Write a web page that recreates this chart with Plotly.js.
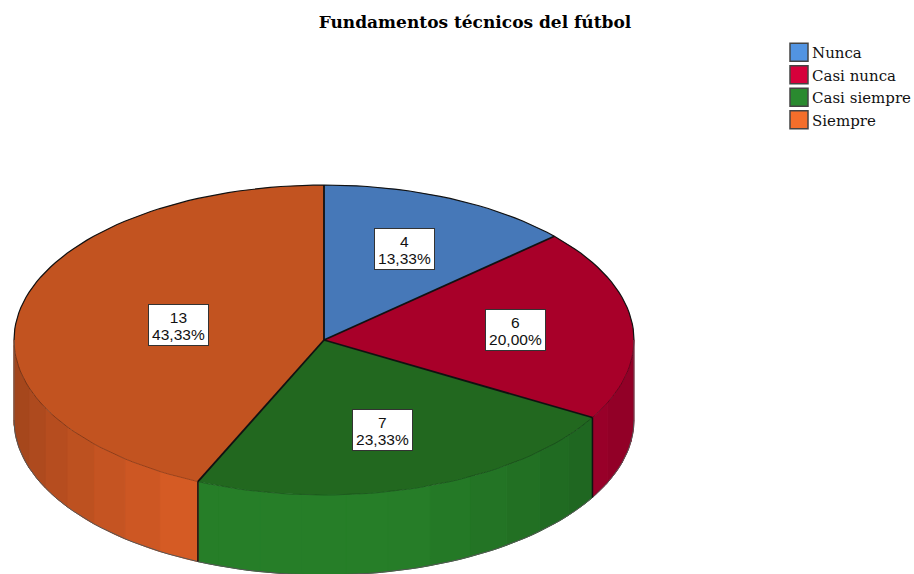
<!DOCTYPE html>
<html>
<head>
<meta charset="utf-8">
<script src="https://cdn.plot.ly/plotly-3.0.1.min.js"></script>
<style>html,body{margin:0;padding:0;background:#fff}#chart{width:914px;height:574px}</style>
</head>
<body>
<div id="chart"></div>
<script>
const categories = ['Nunca', 'Casi nunca', 'Casi siempre', 'Siempre'];
const counts = [4, 6, 7, 13];
const topColors = ['#4678B8', '#A80029', '#22681F', '#C25320'];
const legendColors = ['#5294E2', '#D6003B', '#2A8A2F', '#F46E2B'];
const wallColors = [[82, 148, 226], [194, 0, 52], [38, 126, 40], [216, 92, 37]];
const labelRadius = [0.64, 0.62, 0.61, 0.48];

const W = 914, H = 574;
const cx = 324, cy = 340, rx = 310, ry = 155, depth = 80, bandStep = 8;
const total = counts.reduce((a, b) => a + b, 0);
const rad = d => d * Math.PI / 180;
const rimX = t => cx + rx * Math.sin(rad(t));
const rimY = t => cy - ry * Math.cos(rad(t));

// cumulative boundary angles, clockwise from 12 o'clock
const bounds = [0];
counts.forEach(v => bounds.push(bounds[bounds.length - 1] + v / total * 360));

const traces = [];
const quiet = {type: 'scatter', mode: 'lines', showlegend: false, hoverinfo: 'skip'};

// side wall: one filled band per angular step of each visible slice
counts.forEach((v, i) => {
  const a0 = Math.max(bounds[i], 90), a1 = Math.min(bounds[i + 1], 270);
  if (a1 <= a0) return;
  for (let a = a0; a < a1 - 1e-6; a += bandStep) {
    const b = Math.min(a + bandStep, a1), xs = [], ys = [];
    for (let t = a; t <= b + 1e-6; t += (b - a) / 6) { xs.push(rimX(t)); ys.push(rimY(t)); }
    for (let t = b; t >= a - 1e-6; t -= (b - a) / 6) { xs.push(rimX(t)); ys.push(rimY(t) + depth); }
    xs.push(xs[0]); ys.push(ys[0]);
    const off = Math.max(Math.abs((a + b) / 2 - 185) - 20, 0);
    const s = 1 - 0.25 * Math.min(off / 55, 1);
    const c = wallColors[i].map(k => Math.round(k * s));
    traces.push(Object.assign({}, quiet, {x: xs, y: ys, fill: 'toself',
      fillcolor: `rgb(${c})`, line: {width: 1, color: `rgb(${c})`}}));
  }
});

function arc(from, to, dy) {
  const xs = [], ys = [];
  for (let t = from; t <= to + 1e-6; t += 2) { xs.push(rimX(t)); ys.push(rimY(t) + dy); }
  return {x: xs, y: ys};
}

// lower rim of the wall, faint front rim and dark back rim of the top face
traces.push(Object.assign({}, quiet, arc(90, 270, depth), {line: {color: '#555', width: 1}}));
traces.push(Object.assign({}, quiet, arc(90, 270, 0), {line: {color: 'rgba(0,0,0,0.35)', width: 0.8}}));
traces.push(Object.assign({}, quiet, arc(270, 450, 0), {line: {color: '#111', width: 1.2}}));

// vertical edges where slices meet on the wall, plus the two silhouette edges
bounds.filter(t => t > 90 && t < 270).forEach(t => {
  traces.push(Object.assign({}, quiet, {x: [rimX(t), rimX(t)], y: [rimY(t), rimY(t) + depth],
    line: {color: '#111', width: 1.5}}));
});
[90, 270].forEach(t => {
  traces.push(Object.assign({}, quiet, {x: [rimX(t), rimX(t)], y: [rimY(t), rimY(t) + depth],
    line: {color: '#666', width: 0.8}}));
});

// radial edges on the top face
bounds.slice(0, -1).forEach(t => {
  traces.push(Object.assign({}, quiet, {x: [cx, rimX(t)], y: [cy, rimY(t)],
    line: {color: '#111', width: 1.8}}));
});

// top face: a real pie, flattened into an ellipse after drawing
traces.push({
  type: 'pie', labels: categories, values: counts, sort: false, direction: 'clockwise', rotation: 0,
  marker: {colors: topColors, line: {color: '#111', width: 0}},
  textinfo: 'none', hoverinfo: 'label+value+percent', showlegend: true
});

const annotations = counts.map((v, i) => {
  const mid = (bounds[i] + bounds[i + 1]) / 2, f = labelRadius[i];
  return {
    xref: 'x', yref: 'y',
    x: cx + f * rx * Math.sin(rad(mid)),
    y: cy - f * ry * Math.cos(rad(mid)),
    text: v + '<br>' + (v / total * 100).toFixed(2).replace('.', ',') + '%',
    showarrow: false, bgcolor: '#fff', bordercolor: '#333', borderwidth: 1, borderpad: 1,
    width: 57, height: 38, align: 'center', valign: 'middle',
    font: {family: 'Liberation Sans, Arial, sans-serif', size: 15.5, color: '#111'}
  };
});

const layout = {
  width: W, height: H,
  margin: {l: 0, r: 0, t: 0, b: 0, pad: 0, autoexpand: false},
  paper_bgcolor: '#fff', plot_bgcolor: '#fff',
  title: {text: '<b>Fundamentos técnicos del fútbol</b>', x: 475 / W, xanchor: 'center', xref: 'paper',
    y: 1 - 22 / H, yanchor: 'middle', yref: 'container',
    font: {family: 'DejaVu Serif, serif', size: 17, color: '#000'}},
  xaxis: {range: [0, W], visible: false, fixedrange: true, domain: [0, 1]},
  yaxis: {range: [H, 0], visible: false, fixedrange: true, domain: [0, 1]},
  showlegend: true,
  legend: {x: 772 / W, xanchor: 'left', y: 1 - 36 / H, yanchor: 'top', traceorder: 'normal',
    bgcolor: 'rgba(0,0,0,0)', borderwidth: 0, itemclick: false, itemdoubleclick: false,
    font: {family: 'DejaVu Serif, serif', size: 15, color: '#111'}},
  annotations: annotations
};

Plotly.newPlot('chart', traces, layout, {displayModeBar: false, staticPlot: true}).then(gd => {
  const pie = gd.querySelector('.pielayer');
  const R = Math.min(W, H) / 2;
  pie.setAttribute('transform',
    `translate(${cx},${cy}) scale(${rx / R},${ry / R}) translate(${-W / 2},${-H / 2})`);
  // put the flattened top face beneath the outline traces
  const cart = gd.querySelector('.cartesianlayer');
  cart.parentNode.insertBefore(pie, cart);

  gd.querySelectorAll('.legend .legendpoints path').forEach((p, i) => {
    p.setAttribute('d', 'M9,9H-9V-9H9Z');
    p.setAttribute('transform', 'translate(27,0)');
    p.style.fill = legendColors[i % 4];
    p.style.stroke = '#444';
    p.style.strokeWidth = '1.5px';
  });
  gd.querySelectorAll('.annotation-text').forEach(t => {
    const lines = t.querySelectorAll('tspan.line');
    if (lines.length === 2) {
      lines[0].setAttribute('dy', '3px');
      lines[1].setAttribute('dy', '20px');
    }
  });
});
</script>
</body>
</html>
